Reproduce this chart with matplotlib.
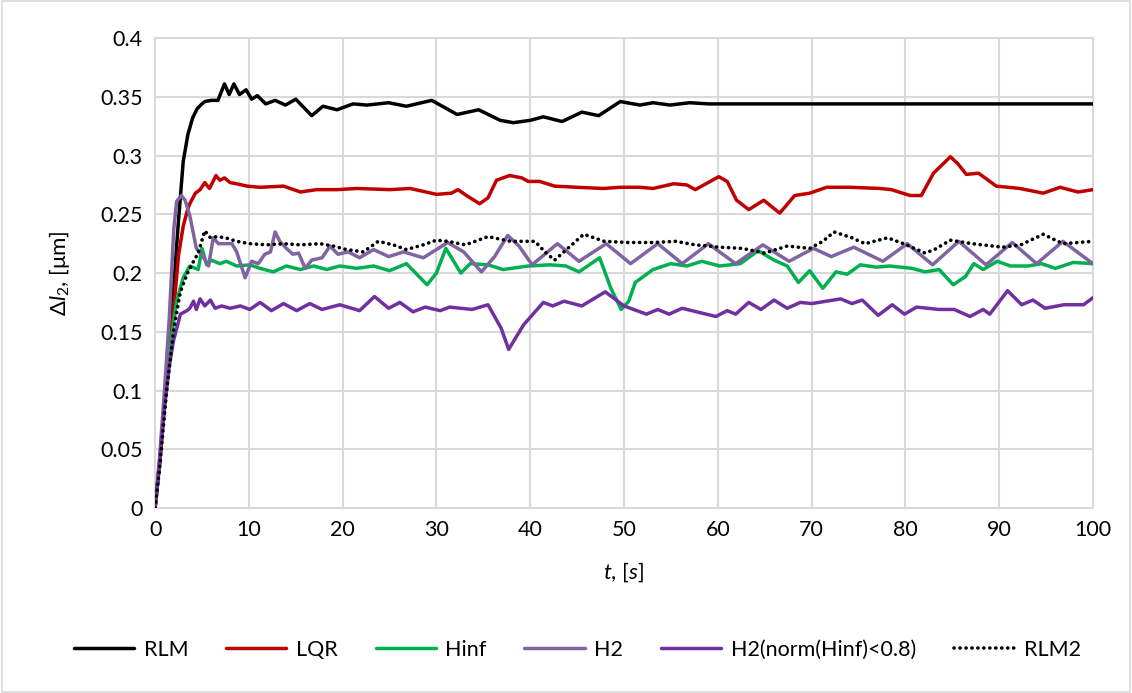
import matplotlib.pyplot as plt
from matplotlib.patches import Rectangle

# values
t_rlm = [0, 0.5, 1, 1.5, 2, 2.5, 3, 3.5, 4, 4.5, 5, 5.3, 6.0, 6.7, 7.4, 7.9, 8.4, 9.0, 9.7,
         10.3, 10.9, 11.8, 12.8, 13.9, 15.0, 16.7, 17.9, 19.4, 21.1, 22.6, 24.9, 26.8, 29.5,
         32.2, 34.5, 36.8, 38.2, 40.0, 41.4, 43.4, 45.5, 47.3, 49.6, 51.7, 53.1, 54.9, 57.0,
         59.0, 65, 80, 100]
rlm = [0, 0.04, 0.09, 0.14, 0.19, 0.245, 0.295, 0.318, 0.332, 0.340, 0.344, 0.346, 0.347,
       0.347, 0.361, 0.352, 0.361, 0.352, 0.356, 0.348, 0.351, 0.344, 0.347, 0.343, 0.348,
       0.334, 0.342, 0.339, 0.344, 0.343, 0.345, 0.342, 0.347, 0.335, 0.339, 0.330, 0.328,
       0.330, 0.333, 0.329, 0.337, 0.334, 0.346, 0.343, 0.345, 0.343, 0.345, 0.344, 0.344,
       0.344, 0.344]

t_lqr = [0, 0.5, 1, 1.5, 2, 2.5, 3, 3.5, 3.7, 4.3, 4.8, 5.3, 5.8, 6.5, 6.9, 7.4, 8.0, 8.7,
         9.8, 11.2, 13.7, 15.5, 17.2, 19.4, 21.5, 25.1, 27.2, 30.0, 31.6, 32.3, 33.2, 34.6,
         35.5, 36.4, 37.8, 39.1, 39.8, 41.0, 42.6, 45.0, 47.8, 49.6, 51.7, 53.1, 55.3, 56.7,
         57.6, 60.1, 61.0, 62.0, 63.3, 64.9, 66.6, 68.2, 69.8, 71.6, 74.1, 77.3, 78.5, 80.5,
         81.7, 83.0, 84.8, 85.6, 86.5, 87.8, 89.7, 92.2, 94.7, 96.5, 98.4, 100]
lqr = [0, 0.04, 0.09, 0.13, 0.17, 0.215, 0.24, 0.255, 0.259, 0.268, 0.271, 0.277, 0.272,
       0.283, 0.279, 0.281, 0.277, 0.276, 0.274, 0.273, 0.274, 0.269, 0.271, 0.271, 0.272,
       0.271, 0.272, 0.267, 0.268, 0.271, 0.266, 0.259, 0.264, 0.279, 0.283, 0.281, 0.278,
       0.278, 0.274, 0.273, 0.272, 0.273, 0.273, 0.272, 0.276, 0.275, 0.271, 0.282, 0.278,
       0.262, 0.254, 0.262, 0.251, 0.266, 0.268, 0.273, 0.273, 0.272, 0.271, 0.266, 0.266,
       0.285, 0.299, 0.293, 0.284, 0.285, 0.274, 0.272, 0.268, 0.273, 0.269, 0.271]

t_hinf = [0, 0.5, 1, 1.5, 2, 2.3, 3.0, 3.7, 4.6, 5.0, 5.5, 6.0, 6.9, 7.6, 8.7, 10.1, 11.2,
          12.6, 14.0, 15.5, 16.9, 18.3, 19.7, 21.5, 23.3, 25.0, 26.8, 27.9, 29.0, 30.0, 31.0,
          32.6, 33.6, 35.5, 37.1, 39.8, 42.1, 43.8, 45.2, 47.4, 48.6, 49.7, 50.5, 51.2, 53.1,
          55.0, 56.7, 58.3, 60.2, 62.4, 64.3, 66.0, 67.4, 68.6, 69.8, 71.2, 72.6, 73.8, 75.2,
          76.9, 78.3, 80.7, 82.1, 83.6, 85.1, 86.4, 87.3, 88.3, 89.8, 91.2, 93.1, 94.5, 96.0,
          97.9, 100]
hinf = [0, 0.04, 0.09, 0.13, 0.16, 0.176, 0.196, 0.206, 0.203, 0.221, 0.207, 0.211, 0.208,
        0.210, 0.206, 0.207, 0.204, 0.201, 0.206, 0.203, 0.206, 0.203, 0.206, 0.204, 0.206,
        0.202, 0.208, 0.199, 0.190, 0.200, 0.221, 0.200, 0.208, 0.207, 0.203, 0.206, 0.207,
        0.206, 0.201, 0.213, 0.187, 0.169, 0.176, 0.192, 0.203, 0.208, 0.206, 0.210, 0.206,
        0.208, 0.219, 0.211, 0.206, 0.192, 0.202, 0.187, 0.201, 0.199, 0.207, 0.205, 0.206,
        0.204, 0.201, 0.203, 0.190, 0.197, 0.208, 0.203, 0.210, 0.206, 0.206, 0.208, 0.204,
        0.209, 0.208]

t_h2 = [0, 0.5, 1, 1.5, 2.0, 2.3, 2.8, 3.2, 3.7, 4.4, 5.2, 5.7, 6.2, 6.75, 7.5, 8.2, 8.7,
        9.6, 10.3, 11.0, 11.7, 12.3, 12.8, 13.3, 14.0, 14.7, 15.3, 16.0, 16.7, 17.8, 18.65,
        19.5, 20.6, 21.8, 23.3, 24.9, 26.5, 28.6, 31.2, 32.9, 34.8, 36.2, 37.6, 38.8, 40.2,
        42.9, 45.2, 48.1, 50.7, 53.6, 56.2, 59.0, 61.9, 64.8, 67.6, 70.2, 72.1, 74.5, 77.6,
        80.2, 82.9, 85.7, 88.6, 91.4, 94.0, 96.8, 100]
h2 = [0, 0.045, 0.10, 0.16, 0.238, 0.261, 0.266, 0.262, 0.249, 0.221, 0.213, 0.206, 0.230,
      0.225, 0.225, 0.225, 0.218, 0.196, 0.210, 0.208, 0.216, 0.218, 0.235, 0.227, 0.221,
      0.216, 0.217, 0.204, 0.211, 0.213, 0.223, 0.216, 0.218, 0.213, 0.220, 0.214, 0.218,
      0.213, 0.226, 0.218, 0.201, 0.214, 0.232, 0.223, 0.207, 0.225, 0.210, 0.225, 0.208,
      0.225, 0.208, 0.225, 0.208, 0.224, 0.210, 0.221, 0.214, 0.222, 0.210, 0.225, 0.207,
      0.227, 0.207, 0.226, 0.208, 0.227, 0.208]

t_h2n = [0, 0.5, 1, 1.5, 1.95, 2.7, 3.4, 3.7, 4.1, 4.4, 4.8, 5.3, 5.9, 6.4, 7.1, 8.0, 9.1,
         10.1, 11.2, 12.4, 13.7, 15.1, 16.5, 17.8, 19.7, 21.8, 23.4, 24.9, 26.1, 27.5, 28.8,
         30.4, 31.4, 33.8, 35.5, 36.9, 37.7, 39.3, 41.4, 42.4, 43.6, 45.5, 48.0, 50.0, 52.4,
         53.6, 54.8, 56.2, 59.8, 61.0, 61.9, 63.3, 64.6, 66.0, 67.4, 68.8, 70.0, 73.1, 74.3,
         75.4, 77.1, 78.6, 79.9, 81.2, 83.6, 85.2, 86.9, 88.3, 89.0, 90.9, 92.4, 93.6, 94.9,
         96.9, 99.0, 100]
h2n = [0, 0.04, 0.085, 0.12, 0.142, 0.165, 0.168, 0.170, 0.176, 0.169, 0.178, 0.172, 0.177,
       0.170, 0.172, 0.170, 0.172, 0.169, 0.175, 0.168, 0.174, 0.168, 0.174, 0.169, 0.173,
       0.168, 0.180, 0.170, 0.175, 0.167, 0.171, 0.168, 0.171, 0.169, 0.173, 0.153, 0.135,
       0.156, 0.175, 0.172, 0.176, 0.172, 0.184, 0.172, 0.165, 0.169, 0.165, 0.170, 0.163,
       0.168, 0.165, 0.175, 0.169, 0.177, 0.170, 0.175, 0.174, 0.178, 0.174, 0.177, 0.164,
       0.173, 0.165, 0.171, 0.169, 0.169, 0.163, 0.169, 0.165, 0.185, 0.173, 0.177, 0.170,
       0.173, 0.173, 0.179]

t_rlm2 = [0, 0.5, 1.2, 2.0, 2.7, 3.4, 4.1, 4.6, 5.0, 5.3, 5.9, 6.6, 7.5, 8.7, 10.1, 11.9,
          13.7, 15.5, 17.6, 19.0, 20.4, 22.2, 23.8, 25.4, 26.8, 28.6, 30.0, 31.2, 33.1, 35.5,
          37.9, 40.5, 41.7, 42.6, 44.0, 45.7, 47.9, 50.5, 53.1, 55.5, 57.6, 60.2, 62.6, 65.0,
          67.4, 69.8, 71.2, 72.4, 74.3, 75.7, 78.1, 79.8, 82.1, 83.1, 84.8, 87.1, 90.4, 92.3,
          94.7, 96.8, 100]
rlm2 = [0, 0.035, 0.097, 0.153, 0.184, 0.199, 0.210, 0.217, 0.228, 0.236, 0.230, 0.231,
        0.230, 0.227, 0.225, 0.224, 0.225, 0.224, 0.225, 0.223, 0.220, 0.218, 0.227, 0.224,
        0.220, 0.224, 0.228, 0.227, 0.224, 0.231, 0.227, 0.227, 0.217, 0.211, 0.221, 0.233,
        0.227, 0.226, 0.226, 0.227, 0.224, 0.222, 0.221, 0.217, 0.223, 0.221, 0.227, 0.235,
        0.230, 0.225, 0.230, 0.225, 0.217, 0.220, 0.228, 0.225, 0.222, 0.224, 0.233, 0.225,
        0.227]

x_ticks = list(range(0, 101, 10))
y_ticks = [0, 0.05, 0.1, 0.15, 0.2, 0.25, 0.3, 0.35, 0.4]
y_labels = ['0', '0.05', '0.1', '0.15', '0.2', '0.25', '0.3', '0.35', '0.4']

plt.rcParams['font.family'] = ['Lato', 'DejaVu Sans']
plt.rcParams['mathtext.fontset'] = 'custom'
plt.rcParams['mathtext.rm'] = 'Lato'
plt.rcParams['mathtext.it'] = 'Lato:italic'

fig = plt.figure(figsize=(11.32, 6.93), dpi=100)
ax = fig.add_axes([0.137, 0.267, 0.8285, 0.678])

lw = 2.5
kw = dict(lw=lw, solid_joinstyle='round', solid_capstyle='round', zorder=3)
ax.plot(t_rlm, rlm, color='black', label='RLM', **kw)
ax.plot(t_lqr, lqr, color='#C00000', label='LQR', **kw)
ax.plot(t_hinf, hinf, color='#00B050', label='Hinf', **kw)
ax.plot(t_h2, h2, color='#8064A2', label='H2', **kw)
ax.plot(t_h2n, h2n, color='#7030A0', label='H2(norm(Hinf)<0.8)', **kw)
ax.plot(t_rlm2, rlm2, color='black', lw=2.6, ls=(0, (0.05, 1.6)), dash_capstyle='round',
        label='RLM2', zorder=4)

ax.set_xlim(0, 100)
ax.set_ylim(0, 0.4)
ax.set_xticks(x_ticks)
ax.set_yticks(y_ticks)
ax.set_yticklabels(y_labels)
ax.tick_params(length=0, labelsize=15.5, colors='black', pad=9)
ax.grid(True, color='#D9D9D9', lw=1.5)
ax.set_axisbelow(True)
for s in ax.spines.values():
    s.set_visible(False)
for ln in ax.get_xgridlines() + ax.get_ygridlines():
    ln.set_clip_on(False)

ax.set_xlabel(r'$\mathit{t}$, [$\mathit{s}$]', fontsize=16, labelpad=14)
ax.set_ylabel(r'$\Delta\mathit{l}_2$, [μm]', fontsize=16, labelpad=20)

fig.legend(loc='center', bbox_to_anchor=(0.51, 0.062), ncol=6, frameon=False,
           fontsize=15.5, handlelength=2.8, columnspacing=1.75, handletextpad=0.45)

fig.patches.append(Rectangle((0.002, 0.002), 0.996, 0.996, transform=fig.transFigure,
                             fill=False, edgecolor='#D9D9D9', lw=1.2))

fig.savefig('out.png', dpi=100)
